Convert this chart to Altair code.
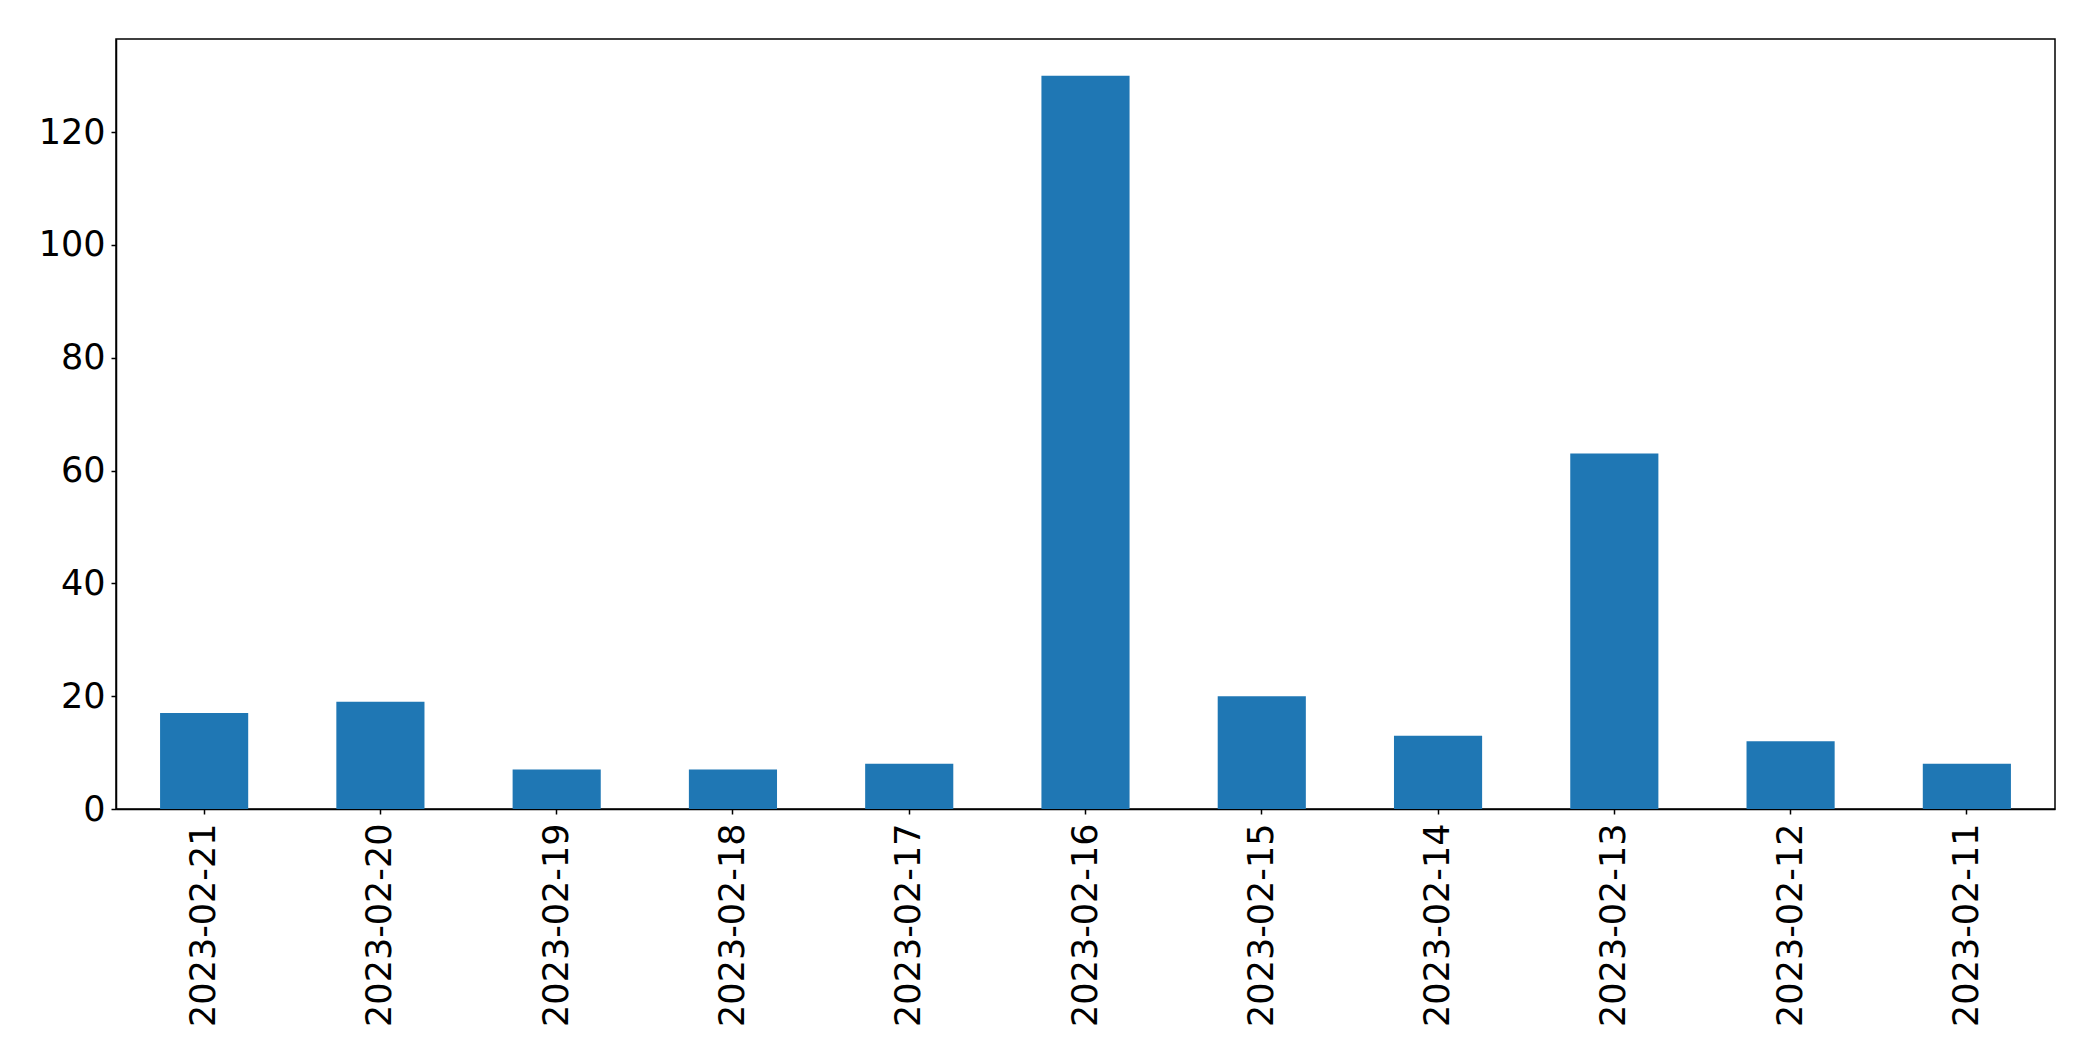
import altair as alt
import pandas as pd

dates = ["2023-02-21", "2023-02-20", "2023-02-19", "2023-02-18", "2023-02-17",
         "2023-02-16", "2023-02-15", "2023-02-14", "2023-02-13", "2023-02-12", "2023-02-11"]
counts = [17, 19, 7, 7, 8, 130, 20, 13, 63, 12, 8]
y_ticks = [0, 20, 40, 60, 80, 100, 120]

df = pd.DataFrame({"date": dates, "count": counts})

FONT = "DejaVu Sans"
FS = 35

chart = alt.Chart(df).mark_bar(color="#1f77b4").encode(
    x=alt.X("date:N", sort=dates,
            scale=alt.Scale(paddingInner=0.5, paddingOuter=0.25),
            axis=alt.Axis(title=None, labelAngle=270, labelAlign="right", labelBaseline="middle",
                          labelFont=FONT, labelFontSize=FS, labelColor="black", labelLimit=0,
                          tickColor="black", tickSize=5, tickWidth=1.5, labelPadding=9,
                          domainColor="black", domainWidth=1.5)),
    y=alt.Y("count:Q", scale=alt.Scale(domain=[0, 136.5], nice=False),
            axis=alt.Axis(title=None, values=y_ticks, grid=False,
                          labelFont=FONT, labelFontSize=FS, labelColor="black", labelLimit=0,
                          tickColor="black", tickSize=5, tickWidth=1.5, labelPadding=6,
                          domainColor="black", domainWidth=1.5)),
).properties(
    width=1939,
    height=770,
    autosize=alt.AutoSizeParams(type="none"),
    padding={"left": 108, "top": 31, "right": 30, "bottom": 250},
    background="white",
).configure_view(
    stroke="black", strokeWidth=1.5
)

chart.save("out.html", embed_options={"renderer": "svg", "actions": False})
